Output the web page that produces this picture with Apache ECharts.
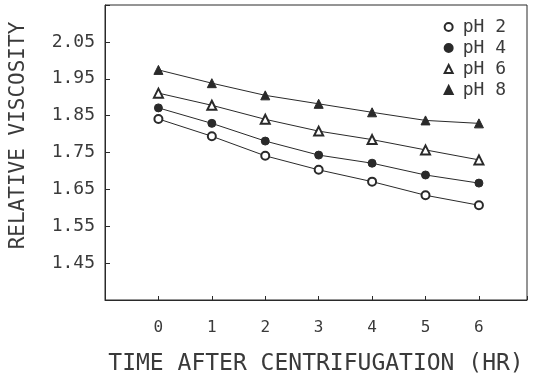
<!DOCTYPE html>
<html>
<head>
<meta charset="utf-8">
<script src="https://cdn.jsdelivr.net/npm/echarts@6/dist/echarts.min.js"></script>
<style>
  html, body { margin: 0; padding: 0; background: #fff; }
  #chart { width: 534px; height: 384px; }
</style>
</head>
<body>
<div id="chart"></div>
<script>
// Hours after centrifugation
var hours = [0, 1, 2, 3, 4, 5, 6];

// Relative viscosity at each pH
var ph2 = [1.841, 1.794, 1.741, 1.703, 1.671, 1.634, 1.607];
var ph4 = [1.871, 1.829, 1.781, 1.743, 1.721, 1.689, 1.667];
var ph6 = [1.911, 1.878, 1.840, 1.808, 1.785, 1.757, 1.730];
var ph8 = [1.974, 1.938, 1.905, 1.882, 1.859, 1.837, 1.829];

var seriesNames = ['pH 2', 'pH 4', 'pH 6', 'pH 8'];
var seriesSymbols = ['emptyCircle', 'circle', 'emptyTriangle', 'triangle'];

// Tick labels
var xTicks = [0, 1, 2, 3, 4, 5, 6];
var yTicks = [1.45, 1.55, 1.65, 1.75, 1.85, 1.95, 2.05];

var ink = '#2a2a2a';
var textInk = '#3a3a3a';
var mono = '"DejaVu Sans Mono", "Liberation Mono", monospace';

function pairs(values) {
  return hours.map(function (h, i) { return [h, values[i]]; });
}

function isTick(list, v) {
  return list.some(function (t) { return Math.abs(t - v) < 1e-6; });
}

var seriesValues = [ph2, ph4, ph6, ph8];

var chart = echarts.init(document.getElementById('chart'), null, { renderer: 'canvas' });

chart.setOption({
  animation: false,
  backgroundColor: '#fff',
  grid: {
    left: 102, right: 7, top: 5, bottom: 84,
    show: true, borderColor: ink, borderWidth: 1, backgroundColor: 'transparent'
  },
  legend: {
    orient: 'vertical',
    right: 23, top: 13,
    itemWidth: 12, itemHeight: 10, itemGap: 3,
    lineStyle: { opacity: 0 },
    textStyle: { fontFamily: mono, fontSize: 18, lineHeight: 18, color: textInk, padding: [0, 0, 0, 3] },
    data: seriesNames
  },
  xAxis: {
    type: 'value',
    min: -1, max: 6.9, interval: 1,
    name: 'TIME AFTER CENTRIFUGATION (HR)',
    nameLocation: 'middle',
    nameGap: 53,
    nameTextStyle: { fontFamily: mono, fontSize: 23, color: textInk },
    axisLine: { show: true, onZero: false, lineStyle: { color: ink, width: 1 } },
    axisTick: { show: true, inside: true, length: 4, lineStyle: { color: ink } },
    axisLabel: {
      margin: 20, showMinLabel: true, showMaxLabel: true,
      fontFamily: mono, fontSize: 16, color: textInk,
      formatter: function (v) { return isTick(xTicks, v) ? String(Math.round(v)) : ''; }
    },
    splitLine: { show: false }
  },
  yAxis: {
    type: 'value',
    min: 1.35, max: 2.15, interval: 0.1,
    name: 'RELATIVE VISCOSITY',
    nameLocation: 'middle',
    nameGap: 76,
    nameTextStyle: { fontFamily: mono, fontSize: 21, color: textInk, padding: [0, 0, 0, 34] },
    axisLine: { show: true, onZero: false, lineStyle: { color: ink, width: 1 } },
    axisTick: { show: true, inside: true, length: 5, lineStyle: { color: ink } },
    axisLabel: {
      margin: 10,
      fontFamily: mono, fontSize: 18, color: textInk,
      formatter: function (v) { return isTick(yTicks, v) ? v.toFixed(2) : ''; }
    },
    splitLine: { show: false }
  },
  series: seriesNames.map(function (name, i) {
    var tri = seriesSymbols[i].indexOf('riangle') >= 0;
    return {
      name: name,
      type: 'line',
      data: pairs(seriesValues[i]),
      symbol: seriesSymbols[i],
      symbolSize: tri ? 9 : 8,
      lineStyle: { color: ink, width: 1 },
      itemStyle: { color: ink, borderColor: ink, borderWidth: 1 }
    };
  })
});
</script>
</body>
</html>
